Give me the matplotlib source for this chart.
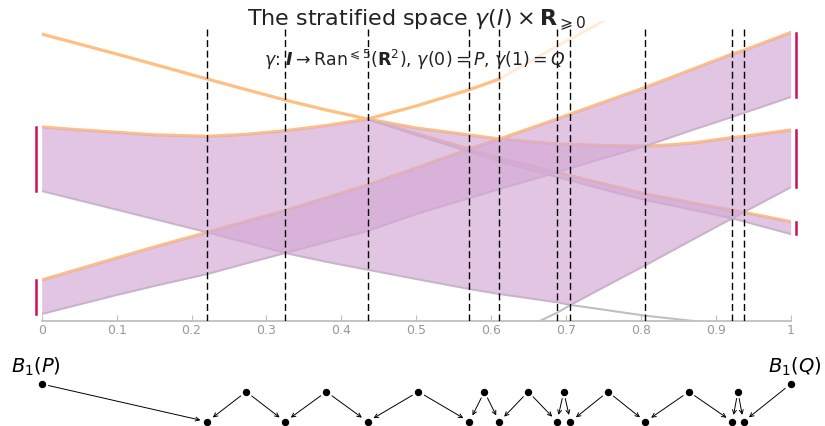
import numpy as np
import matplotlib.pyplot as plt

plt.rcParams['mathtext.fontset'] = 'dejavusans'

nan = np.nan

# sample positions along the path parameter t
t = np.array([0, 0.05, 0.1, 0.15, 0.221, 0.27, 0.325, 0.38, 0.435, 0.5, 0.571, 0.611,
              0.665, 0.688, 0.706, 0.75, 0.78, 0.806, 0.84, 0.87, 0.922, 0.937, 0.96, 1.0])

# orange (upper) curves
upper_a = np.array([2.87, 2.77, 2.67, 2.567, 2.42, 2.32, 2.21, 2.11, 2.02, 1.93, 1.86, 1.82,
                    1.785, 1.77, 1.765, 1.755, 1.75, 1.75, 1.762, 1.78, 1.835, 1.845, 1.869, 1.91])
upper_dip = np.array([1.94, 1.912, 1.887, 1.862, 1.847, 1.865, 1.903, 1.955, 2.02, 2.15, 2.313, 2.42,
                      2.65, 2.75, 2.82, 3.00, nan, nan, nan, nan, nan, nan, nan, nan])
upper_rise = np.array([0.41, 0.52, 0.63, 0.74, 0.887, 0.99, 1.105, 1.232, 1.36, 1.53, 1.72, 1.82,
                       1.96, 2.02, 2.07, 2.187, 2.267, 2.337, 2.434, 2.52, 2.67, 2.705, 2.771, 2.885])
upper_fall = np.array([nan, nan, nan, nan, nan, nan, nan, nan, 2.02, 1.874, 1.72, 1.631,
                       1.53, 1.487, 1.453, 1.372, 1.317, 1.27, 1.222, 1.179, 1.108, 1.087, 1.053, 0.993])

# gray (lower) curves
lower_rise = np.array([0.07, 0.165, 0.26, 0.35, 0.47, 0.57, 0.68, 0.79, 0.90, 1.07, 1.23, 1.32,
                       1.437, 1.487, 1.528, 1.628, 1.693, 1.75, 1.837, 1.914, 2.041, 2.08, 2.138, 2.24])
lower_fall = np.array([1.30, 1.207, 1.114, 1.02, 0.887, 0.79, 0.68, 0.592, 0.513, 0.42, 0.32, 0.27,
                       0.212, 0.187, 0.16, 0.114, 0.081, 0.053, 0.025, 0.0, nan, nan, nan, nan])
lower_late = np.array([nan, nan, nan, nan, nan, nan, nan, nan, nan, nan, nan, nan,
                       0.0, 0.083, 0.16, 0.336, 0.455, 0.558, 0.696, 0.818, 1.027, 1.087, 1.178, 1.337])
lower_thin = np.array([nan, nan, nan, nan, nan, nan, nan, nan, 2.02, 1.86, 1.69, 1.595,
                       1.488, 1.44, 1.405, 1.315, 1.259, 1.21, 1.157, 1.11, 1.027, 0.997, 0.95, 0.87])

# critical times (dashed lines / lower row of the zigzag)
crit_t = [0.221, 0.325, 0.435, 0.571, 0.611, 0.688, 0.706, 0.806, 0.922, 0.937]

tick_vals = [0, 0.1, 0.2, 0.3, 0.4, 0.5, 0.6, 0.7, 0.8, 0.9, 1]
tick_labels = ['0', '0.1', '0.2', '0.3', '0.4', '0.5', '0.6', '0.7', '0.8', '0.9', '1']

orange = '#ffbf80'
gray = '#bfbfbf'
fill_c = '#d4aad5'
red = '#cc1052'

W, H = 825, 427
fig = plt.figure(figsize=(W / 100, H / 100), dpi=100)
ax = fig.add_axes([41.7 / W, 1 - 322 / H, 749 / W, 300 / H])
ax.set_xlim(0, 1)
ax.set_ylim(0, 3.0)

# curves (under the fills)
ax.plot(t, upper_a, color=orange, lw=2.3, zorder=1)
ax.plot(t[:12], upper_dip[:12], color=orange, lw=2.3, zorder=1)
ax.plot(t[11:16], upper_dip[11:16], color=orange, lw=2.0, alpha=0.3, zorder=1)
ax.plot(t, upper_rise, color=orange, lw=2.3, zorder=1)
ax.plot(t, upper_fall, color=orange, lw=2.3, zorder=1)
ax.plot(t, lower_rise, color=gray, lw=1.5, zorder=1)
ax.plot(t, lower_fall, color=gray, lw=1.5, zorder=1)
ax.plot(t, lower_late, color=gray, lw=1.5, zorder=1)
ax.plot(t, lower_thin, color=gray, lw=1.5, zorder=1)

# bands
band_top = np.fmin(upper_a, upper_dip)
band_bot = np.fmax(lower_fall, lower_late)
ax.fill_between(t, band_bot, band_top, color=fill_c, alpha=0.68, lw=0, zorder=2)
ax.fill_between(t, lower_rise, upper_rise, color=fill_c, alpha=0.68, lw=0, zorder=2)
ax.fill_between(t, lower_thin, upper_fall, color=fill_c, alpha=0.68, lw=0, zorder=2)

# end intervals
for x, lo, hi in [(-0.0076, band_bot[0], band_top[0]),
                  (-0.0076, lower_rise[0], upper_rise[0]),
                  (1.0067, lower_rise[-1], upper_rise[-1]),
                  (1.0067, band_bot[-1], band_top[-1]),
                  (1.0067, lower_thin[-1], upper_fall[-1])]:
    ax.plot([x, x], [lo, hi], color=red, lw=1.8, clip_on=False, zorder=3)

for c in crit_t:
    ax.plot([c, c], [0, 2.92], color='black', lw=1.0, ls=(0, (5, 2.6)), zorder=4)

for s in ['top', 'left', 'right']:
    ax.spines[s].set_visible(False)
ax.spines['bottom'].set_color(gray)
ax.spines['bottom'].set_linewidth(1.3)
ax.spines['bottom'].set_zorder(0.5)
ax.set_yticks([])
ax.set_xticks(tick_vals)
ax.set_xticklabels(tick_labels)
ax.tick_params(axis='x', direction='in', length=4.5, width=0.8, color=gray,
               labelcolor='#999999', labelsize=9, pad=1.5)

fig.text(417 / W, 1 - 20 / H,
         r'The stratified space $\gamma(I) \times \mathbf{R}_{\geqslant 0}$',
         ha='center', va='center', fontsize=16, color='#222222')
fig.text(415 / W, 1 - 60 / H,
         r'$\gamma$: $\mathbfit{I} \to \mathrm{Ran}^{\leqslant 5}(\mathbf{R}^2)$, '
         r'$\gamma(0) = P$, $\gamma(1) = Q$',
         ha='center', va='center', fontsize=12.5, color='#222222')

# zigzag of strata below the axis (y in pixel rows)
ax2 = fig.add_axes([41.7 / W, 0, 749 / W, 105 / H])
ax2.set_xlim(0, 1)
ax2.set_ylim(427, 322)
ax2.axis('off')

y_end, y_top, y_bot = 385, 392.7, 422.7
mids = [(a + b) / 2 for a, b in zip(crit_t[:-1], crit_t[1:])]

arrow = dict(arrowstyle='->', lw=0.7, color='black', shrinkA=5, shrinkB=5,
             mutation_scale=7)
ax2.annotate('', xy=(crit_t[0], y_bot), xytext=(0, y_end), arrowprops=arrow)
ax2.annotate('', xy=(crit_t[-1], y_bot), xytext=(1, y_end), arrowprops=arrow)
for i, m in enumerate(mids):
    ax2.annotate('', xy=(crit_t[i], y_bot), xytext=(m, y_top), arrowprops=arrow)
    ax2.annotate('', xy=(crit_t[i + 1], y_bot), xytext=(m, y_top), arrowprops=arrow)

ax2.plot([0, 1], [y_end, y_end], 'o', color='black', ms=4.3, ls='none', clip_on=False)
ax2.plot(mids, [y_top] * len(mids), 'o', color='black', ms=4.3, clip_on=False)
ax2.plot(crit_t, [y_bot] * len(crit_t), 'o', color='black', ms=4.3, clip_on=False)

ax2.text(-0.007, 367, r'$B_1(P)$', ha='center', va='center', fontsize=14)
ax2.text(1.006, 367, r'$B_1(Q)$', ha='center', va='center', fontsize=14)

fig.savefig('out.png', dpi=100)
